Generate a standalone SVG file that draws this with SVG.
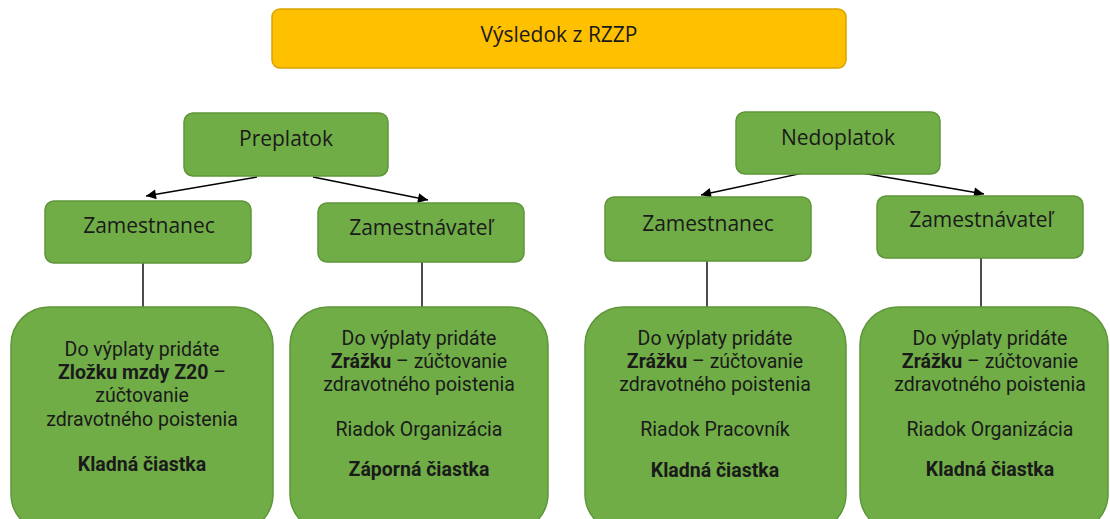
<svg xmlns="http://www.w3.org/2000/svg" width="1110" height="519" viewBox="0 0 1110 519">
<defs>
<style>
.g{fill:#70AD47;stroke:#5E9639;stroke-width:1.5}
.y{fill:#FFC000;stroke:#D9A300;stroke-width:1.5}
text{font-family:"Open Sans","Noto Sans","Liberation Sans",sans-serif;fill:#1a1a1a;text-anchor:middle}
.h{font-size:21px}
.t{font-family:Roboto,"Liberation Sans",sans-serif;font-size:19.5px}
.b{font-weight:bold}
.c{stroke:#000;stroke-width:1.4;fill:none}
</style>
<marker id="ar" viewBox="0 0 10 10" refX="10" refY="5" markerWidth="11" markerHeight="10" markerUnits="userSpaceOnUse" orient="auto"><path d="M0,0 L10,5 L0,10 z" fill="#000"/></marker>
</defs>
<g id="connectors">
<line class="c" x1="257" y1="177" x2="146" y2="196" marker-end="url(#ar)"/>
<line class="c" x1="313" y1="177" x2="428" y2="200" marker-end="url(#ar)"/>
<line class="c" x1="803" y1="173" x2="701" y2="195" marker-end="url(#ar)"/>
<line class="c" x1="862" y1="173" x2="984" y2="194" marker-end="url(#ar)"/>
<line class="c" x1="143" y1="263" x2="143" y2="307"/>
<line class="c" x1="422" y1="262" x2="422" y2="307"/>
<line class="c" x1="707" y1="261" x2="707" y2="307"/>
<line class="c" x1="981" y1="258" x2="981" y2="307"/>
</g>
<g id="root"><rect class="y" x="272" y="9" width="574" height="59" rx="8"/><text class="h" x="559" y="42">Výsledok z RZZP</text></g>
<g id="preplatok"><rect class="g" x="184" y="113" width="204" height="63" rx="9"/><text class="h" x="286" y="146">Preplatok</text></g>
<g id="nedoplatok"><rect class="g" x="736" y="112" width="204" height="62" rx="9"/><text class="h" x="838" y="145">Nedoplatok</text></g>
<g id="zam1"><rect class="g" x="45" y="201" width="206" height="62" rx="9"/><text class="h" x="149" y="233">Zamestnanec</text></g>
<g id="zamv1"><rect class="g" x="318" y="203" width="206" height="59" rx="9"/><text class="h" x="421" y="235">Zamestnávateľ</text></g>
<g id="zam2"><rect class="g" x="605" y="197" width="206" height="64" rx="9"/><text class="h" x="708" y="231">Zamestnanec</text></g>
<g id="zamv2"><rect class="g" x="877" y="196" width="206" height="62" rx="9"/><text class="h" x="981" y="227">Zamestnávateľ</text></g>
<g id="box1"><rect class="g" x="11" y="307" width="262" height="225" rx="38"/>
<text class="t" x="142" y="356">Do výplaty pridáte</text>
<text class="t" x="142" y="379"><tspan class="b">Zložku mzdy Z20</tspan> –</text>
<text class="t" x="142" y="402">zúčtovanie</text>
<text class="t" x="142" y="426">zdravotného poistenia</text>
<text class="t b" x="142" y="471">Kladná čiastka</text>
</g>
<g id="box2"><rect class="g" x="290" y="307" width="258" height="225" rx="38"/>
<text class="t" x="419" y="345">Do výplaty pridáte</text>
<text class="t" x="419" y="368"><tspan class="b">Zrážku</tspan> – zúčtovanie</text>
<text class="t" x="419" y="391">zdravotného poistenia</text>
<text class="t" x="419" y="436">Riadok Organizácia</text>
<text class="t b" x="419" y="476">Záporná čiastka</text>
</g>
<g id="box3"><rect class="g" x="585" y="307" width="261" height="225" rx="38"/>
<text class="t" x="715" y="345">Do výplaty pridáte</text>
<text class="t" x="715" y="368"><tspan class="b">Zrážku</tspan> – zúčtovanie</text>
<text class="t" x="715" y="391">zdravotného poistenia</text>
<text class="t" x="715" y="436">Riadok Pracovník</text>
<text class="t b" x="715" y="477">Kladná čiastka</text>
</g>
<g id="box4"><rect class="g" x="860" y="307" width="248" height="225" rx="38"/>
<text class="t" x="990" y="345">Do výplaty pridáte</text>
<text class="t" x="990" y="368"><tspan class="b">Zrážku</tspan> – zúčtovanie</text>
<text class="t" x="990" y="391">zdravotného poistenia</text>
<text class="t" x="990" y="436">Riadok Organizácia</text>
<text class="t b" x="990" y="476">Kladná čiastka</text>
</g>
</svg>
